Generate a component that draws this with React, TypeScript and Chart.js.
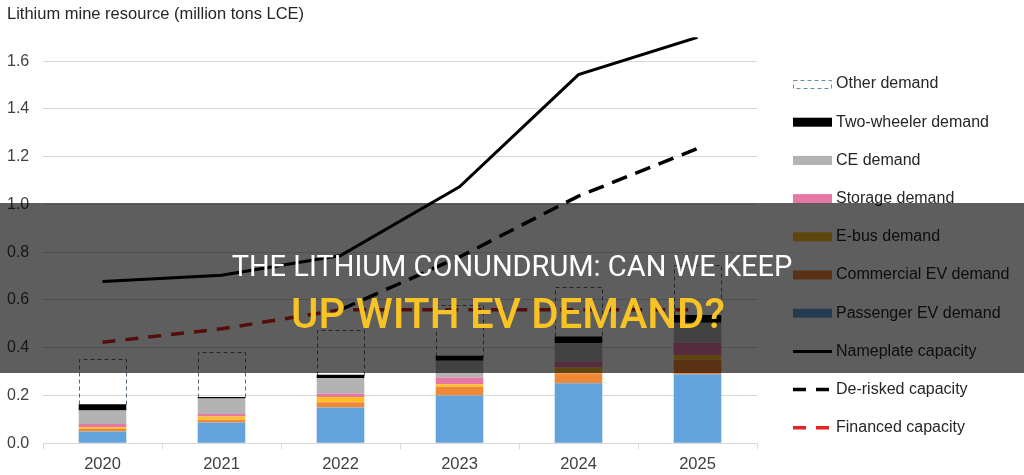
import React, { useEffect, useRef } from 'react';
import { Chart, registerables } from 'chart.js';

Chart.register(...registerables);

// ---- data ----
const years = ['2020', '2021', '2022', '2023', '2024', '2025'];
const passengerEV = [0.049, 0.087, 0.150, 0.200, 0.251, 0.289];
const commercialEV = [0.010, 0.011, 0.021, 0.036, 0.042, 0.060];
const eBus = [0.008, 0.014, 0.022, 0.011, 0.024, 0.020];
const storage = [0.013, 0.010, 0.014, 0.028, 0.025, 0.052];
const ceDemand = [0.057, 0.065, 0.065, 0.070, 0.077, 0.083];
const twoWheeler = [0.026, 0.007, 0.015, 0.021, 0.028, 0.033];
const otherDemand = [0.191, 0.189, 0.188, 0.214, 0.208, 0.211];
const nameplate = [0.677, 0.703, 0.786, 1.074, 1.544, 1.700];
const deRisked = [null, null, 0.559, 0.780, 1.035, 1.234];
const financed = [0.423, 0.479, 0.559, 0.559, 0.559, 0.559];
const yTicks = [0, 0.2, 0.4, 0.6, 0.8, 1.0, 1.2, 1.4, 1.6];
const yMax = 1.7;

const axisTitle = 'Lithium mine resource (million tons LCE)';
const bannerLine1 = 'THE LITHIUM CONUNDRUM: CAN WE KEEP';
const bannerLine2 = 'UP WITH EV DEMAND?';

type LegendItem = { label: string; kind: 'box' | 'dashbox' | 'line' | 'dashline'; color: string };
const legendItems: LegendItem[] = [
  { label: 'Other demand', kind: 'dashbox', color: '#6f8c9b' },
  { label: 'Two-wheeler demand', kind: 'box', color: '#000000' },
  { label: 'CE demand', kind: 'box', color: '#b3b3b3' },
  { label: 'Storage demand', kind: 'box', color: '#e678a6' },
  { label: 'E-bus demand', kind: 'box', color: '#ffbf26' },
  { label: 'Commercial EV demand', kind: 'box', color: '#f0883a' },
  { label: 'Passenger EV demand', kind: 'box', color: '#62a3db' },
  { label: 'Nameplate capacity', kind: 'line', color: '#000000' },
  { label: 'De-risked capacity', kind: 'dashline', color: '#000000' },
  { label: 'Financed capacity', kind: 'dashline', color: '#e0261e' },
];

const FONT = 'Arial, "Liberation Sans", sans-serif';

const dashedOutlinePlugin = {
  id: 'dashedOutline',
  afterDatasetDraw(chart: any, args: any) {
    const ds = chart.data.datasets[args.index];
    if (!ds.outlineColor) return;
    const ctx = chart.ctx;
    ctx.save();
    ctx.strokeStyle = ds.outlineColor;
    ctx.lineWidth = 1;
    ctx.setLineDash([4, 3]);
    args.meta.data.forEach((el: any) => {
      const p = el.getProps(['x', 'y', 'base', 'width'], true);
      const l = Math.round(p.x - p.width / 2) + 0.5;
      const t = Math.round(p.y) + 0.5;
      const w = Math.round(p.width) - 1;
      const h = Math.round(p.base) - Math.round(p.y);
      ctx.beginPath();
      ctx.moveTo(l, t + h);
      ctx.lineTo(l, t);
      ctx.lineTo(l + w, t);
      ctx.lineTo(l + w, t + h);
      ctx.stroke();
    });
    ctx.restore();
  },
};

const legendPlugin = {
  id: 'sideLegend',
  afterDraw(chart: any) {
    const ctx = chart.ctx;
    const x0 = 793;
    const sw = 39;
    const y0 = 84;
    const step = 38.2;
    ctx.save();
    legendItems.forEach((it, i) => {
      const y = y0 + i * step;
      ctx.setLineDash([]);
      if (it.kind === 'box') {
        ctx.fillStyle = it.color;
        ctx.fillRect(x0, y - 4.5, sw, 9);
      } else if (it.kind === 'dashbox') {
        ctx.strokeStyle = it.color;
        ctx.lineWidth = 1;
        ctx.setLineDash([4, 3]);
        ctx.strokeRect(x0 + 0.5, Math.round(y - 4) + 0.5, sw - 1, 8);
      } else if (it.kind === 'line') {
        ctx.strokeStyle = it.color;
        ctx.lineWidth = 3;
        ctx.beginPath();
        ctx.moveTo(x0, y);
        ctx.lineTo(x0 + sw, y);
        ctx.stroke();
      } else {
        ctx.strokeStyle = it.color;
        ctx.lineWidth = 3.5;
        ctx.setLineDash([13, 10]);
        ctx.beginPath();
        ctx.moveTo(x0, y);
        ctx.lineTo(x0 + 36, y);
        ctx.stroke();
      }
      ctx.setLineDash([]);
      ctx.fillStyle = '#262626';
      ctx.font = `16px ${FONT}`;
      ctx.textBaseline = 'middle';
      ctx.textAlign = 'left';
      ctx.fillText(it.label, 836, y);
    });
    ctx.restore();
  },
};

export default function App() {
  const canvasRef = useRef<HTMLCanvasElement | null>(null);

  useEffect(() => {
    if (!canvasRef.current) return;
    const barCommon = {
      type: 'bar' as const,
      stack: 'demand',
      order: 1,
      borderWidth: 0,
      categoryPercentage: 1,
      barPercentage: 0.4,
    };
    const chart = new Chart(canvasRef.current, {
      type: 'bar',
      data: {
        labels: years,
        datasets: [
          {
            type: 'line', label: 'Financed capacity', data: financed, stack: 'fin', order: 0,
            borderColor: '#e0261e', borderWidth: 3.5, borderDash: [13, 10], pointRadius: 0, fill: false, tension: 0,
          } as any,
          {
            type: 'line', label: 'Nameplate capacity', data: nameplate, stack: 'name', order: 0,
            borderColor: '#000000', borderWidth: 3, pointRadius: 0, fill: false, tension: 0,
          } as any,
          {
            type: 'line', label: 'De-risked capacity', data: deRisked, stack: 'derisk', order: 0,
            borderColor: '#000000', borderWidth: 3.5, borderDash: [16, 9], pointRadius: 0, fill: false, tension: 0,
          } as any,
          { ...barCommon, label: 'Passenger EV demand', data: passengerEV, backgroundColor: '#62a3db' },
          { ...barCommon, label: 'Commercial EV demand', data: commercialEV, backgroundColor: '#f0883a' },
          { ...barCommon, label: 'E-bus demand', data: eBus, backgroundColor: '#ffbf26' },
          { ...barCommon, label: 'Storage demand', data: storage, backgroundColor: '#e678a6' },
          { ...barCommon, label: 'CE demand', data: ceDemand, backgroundColor: '#b3b3b3' },
          { ...barCommon, label: 'Two-wheeler demand', data: twoWheeler, backgroundColor: '#000000' },
          { ...barCommon, label: 'Other demand', data: otherDemand, backgroundColor: 'rgba(0,0,0,0)', outlineColor: '#55687a' } as any,
        ],
      },
      options: {
        responsive: false,
        maintainAspectRatio: false,
        animation: false,
        layout: { padding: { left: 7, right: 267, top: 0, bottom: 2 } },
        plugins: {
          legend: { display: false },
          tooltip: { enabled: false },
          title: {
            display: true,
            text: axisTitle,
            align: 'start',
            color: '#262626',
            font: { family: FONT, size: 16.5, weight: 'normal' },
            padding: { top: 5, bottom: 12.5 },
          },
        },
        scales: {
          x: {
            stacked: true,
            grid: { display: true, drawOnChartArea: false, drawTicks: true, tickLength: 6, color: '#d9d9d9', offset: true },
            border: { display: true, color: '#d9d9d9' },
            ticks: { color: '#404040', font: { family: FONT, size: 16.5 }, padding: 5 },
          },
          y: {
            stacked: true,
            min: 0,
            max: yMax,
            afterBuildTicks: (scale: any) => {
              scale.ticks = yTicks.map((v) => ({ value: v }));
            },
            afterFit: (scale: any) => {
              scale.width = 36;
            },
            grid: { color: '#d9d9d9', drawTicks: false },
            border: { display: false },
            ticks: {
              color: '#404040',
              font: { family: FONT, size: 16 },
              padding: 7,
              crossAlign: 'far',
              callback: (v: any) => Number(v).toFixed(1),
            },
          },
        },
      } as any,
      plugins: [dashedOutlinePlugin, legendPlugin],
    });
    return () => chart.destroy();
  }, []);

  return (
    <div style={{ position: 'absolute', left: 0, top: 0, width: 1024, height: 475, background: '#ffffff', overflow: 'hidden' }}>
      <canvas ref={canvasRef} width={1024} height={481} style={{ display: 'block' }} />
      <div
        style={{
          position: 'absolute', left: 0, top: 203, width: 1024, height: 170,
          background: 'rgba(0,0,0,0.63)',
        }}
      />
      <div
        style={{
          position: 'absolute', left: 0, top: 252, width: 1024, textAlign: 'center',
          fontFamily: 'Roboto, sans-serif', fontSize: 29, fontWeight: 400, lineHeight: 1, color: '#ffffff',
          whiteSpace: 'nowrap',
        }}
      >
        {bannerLine1}
      </div>
      <div
        style={{
          position: 'absolute', left: -4, top: 293, width: 1024, textAlign: 'center',
          fontFamily: 'Roboto, sans-serif', fontSize: 42, fontWeight: 500, lineHeight: 1, color: '#f7c325',
          whiteSpace: 'nowrap',
        }}
      >
        {bannerLine2}
      </div>
    </div>
  );
}
